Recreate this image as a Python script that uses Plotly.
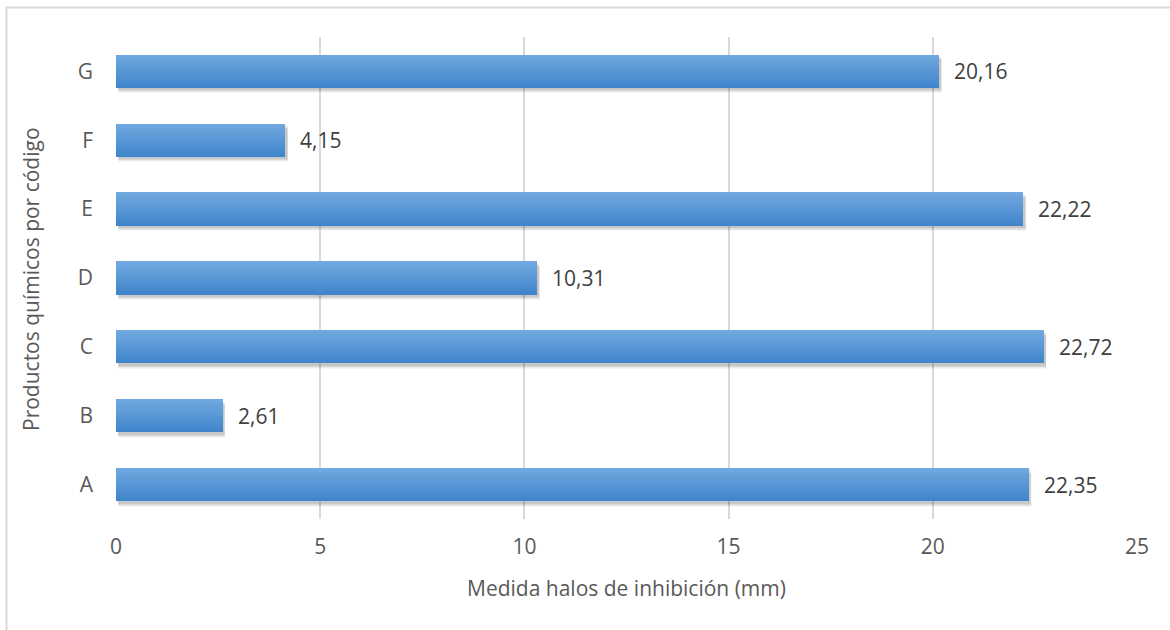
import plotly.graph_objects as go

# Inhibition halo size per chemical product code
codes = ["A", "B", "C", "D", "E", "F", "G"]
halo_mm = [22.35, 2.61, 22.72, 10.31, 22.22, 4.15, 20.16]
value_labels = [f"{v:.2f}".replace(".", ",") for v in halo_mm]
x_ticks = [0, 5, 10, 15, 20, 25]

W, H = 1170, 630
L, R, T, B = 116, 1137, 37, 519  # plot area in pixels
FS = 21


def px_x(p):
    return (p - L) / (R - L)


def px_y(p):
    return (B - p) / (B - T)


fig = go.Figure()

bar_w = 0.48
half = bar_w / 2

# soft drop shadow under each bar
for dy, base, alpha in [(0.08, 0.07, 0.035), (0.065, 0.06, 0.05), (0.05, 0.05, 0.07), (0.035, 0.04, 0.08)]:
    fig.add_trace(go.Bar(
        y=codes, x=halo_mm, base=base, orientation="h",
        width=bar_w, offset=-half - dy,
        marker=dict(color=f"rgba(0,0,0,{alpha})", line=dict(width=0)),
        hoverinfo="skip", showlegend=False,
    ))

# vertical gradient: stack thin strips from dark (bottom) to light (top)
top_rgb = (112, 168, 223)
bot_rgb = (64, 133, 203)
n = 16
dw = bar_w / n
for k in range(n):
    t = k / (n - 1)
    c = tuple(round(bot_rgb[i] + (top_rgb[i] - bot_rgb[i]) * t) for i in range(3))
    fig.add_trace(go.Bar(
        y=codes, x=halo_mm, orientation="h",
        width=dw * 1.08, offset=-half + k * dw,
        marker=dict(color=f"rgb{c}", line=dict(width=0)),
        hoverinfo="skip", showlegend=False,
    ))

# value labels to the right of each bar
for code, v, lab in zip(codes, halo_mm, value_labels):
    fig.add_annotation(
        x=v, y=code, text=lab, showarrow=False, xanchor="left", yanchor="middle",
        xshift=13, font=dict(family="Open Sans", size=FS, color="#404040"),
    )

# axis titles
fig.add_annotation(
    x=px_x(626), y=px_y(588), xref="paper", yref="paper",
    text="Medida halos de inhibición (mm)", showarrow=False,
    xanchor="center", yanchor="middle",
    font=dict(family="Open Sans", size=FS, color="#595959"),
)
fig.add_annotation(
    x=px_x(31), y=px_y(279), xref="paper", yref="paper",
    text="Productos químicos por código", showarrow=False, textangle=-90,
    xanchor="center", yanchor="middle",
    font=dict(family="Open Sans", size=FS, color="#595959"),
)

# chart frame (left and top edges)
fig.add_shape(
    type="rect", xref="paper", yref="paper",
    x0=px_x(6.5), x1=px_x(1180), y0=px_y(7.5), y1=px_y(640),
    line=dict(color="#d9d9d9", width=2), fillcolor="rgba(0,0,0,0)", layer="below",
)

fig.update_layout(
    width=W, height=H,
    margin=dict(l=L, r=W - R, t=T, b=H - B, autoexpand=False),
    paper_bgcolor="white", plot_bgcolor="white",
    barmode="overlay", bargap=0,
    showlegend=False,
    font=dict(family="Open Sans", size=FS, color="#595959"),
)
fig.update_xaxes(
    range=[0, 25], tickvals=x_ticks, ticktext=[str(t) for t in x_ticks],
    showgrid=True, gridcolor="#d9d9d9", gridwidth=2,
    zeroline=False, showline=False, ticks="", ticklabelstandoff=13,
    tickfont=dict(family="Open Sans", size=FS, color="#595959"),
)
fig.update_yaxes(
    type="category", categoryorder="array", categoryarray=codes,
    range=[-0.5, 6.5], showgrid=False, zeroline=False, showline=False,
    ticks="", ticklabelstandoff=22,
    tickfont=dict(family="Open Sans", size=FS, color="#595959"),
)

fig.write_html("out.html")
